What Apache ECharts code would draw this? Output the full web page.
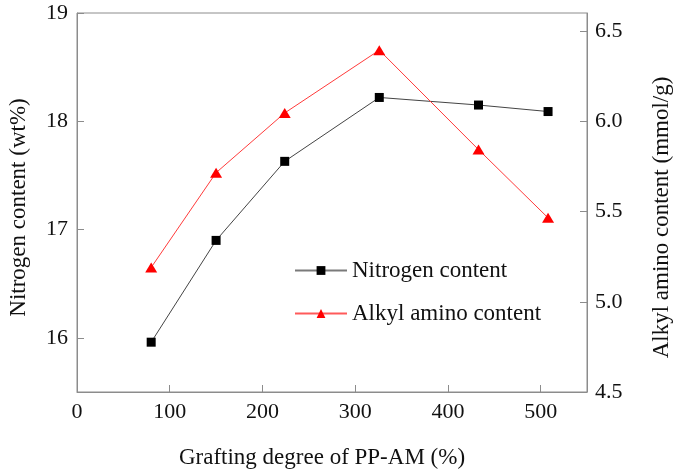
<!DOCTYPE html>
<html>
<head>
<meta charset="utf-8">
<script src="https://cdn.jsdelivr.net/npm/echarts@6/dist/echarts.min.js"></script>
<style>html,body{margin:0;padding:0;background:#fff;overflow:hidden}#c{width:675px;height:472px}</style>
</head>
<body>
<div id="c"></div>
<script>
var graftingDegree = [80, 150, 224, 326, 433, 508];
var nitrogenContent = [15.96, 16.90, 17.63, 18.22, 18.15, 18.09];
var alkylAminoContent = [5.19, 5.715, 6.046, 6.394, 5.843, 5.465];
var xTicks = [0, 100, 200, 300, 400, 500];
var leftTicks = [16, 17, 18, 19];
var rightTicks = [4.5, 5.0, 5.5, 6.0, 6.5];

var FONT = '"Liberation Serif", "Times New Roman", serif';
var axisCol = '#8c8c8c';
function pairs(xs, ys) { return xs.map(function (x, i) { return [x, ys[i]]; }); }

var chart = echarts.init(document.getElementById('c'));
chart.setOption({
  animation: false,
  backgroundColor: '#fff',
  grid: { left: 77, right: 88, top: 13, bottom: 80, containLabel: false, outerBoundsMode: 'none',
    show: true, borderColor: axisCol, borderWidth: 1, backgroundColor: 'transparent' },
  legend: {
    orient: 'vertical', left: 294, top: 259, padding: 0, itemGap: 20, itemWidth: 52, itemHeight: 11,
    textStyle: { fontFamily: FONT, fontSize: 23, color: '#111' },
    data: [
      { name: 'Nitrogen content', lineStyle: { color: '#7a7a7a' } },
      { name: 'Alkyl amino content', lineStyle: { color: '#ff5a5a' } }
    ]
  },
  xAxis: {
    type: 'value', min: 0, max: 550,
    name: 'Grafting degree of PP-AM (%)', nameLocation: 'middle', nameGap: 54,
    nameTextStyle: { fontFamily: FONT, fontSize: 23, color: '#111', padding: [0, 20, 0, 0] },
    axisLine: { show: true, lineStyle: { color: axisCol } },
    axisTick: { show: true, inside: true, length: 7, lineStyle: { color: axisCol }, customValues: xTicks },
    axisLabel: { fontFamily: FONT, fontSize: 22, color: '#111', margin: 9, customValues: xTicks },
    splitLine: { show: false }
  },
  yAxis: [{
    type: 'value', min: 15.5, max: 19, position: 'left',
    name: 'Nitrogen content (wt%)', nameLocation: 'middle', nameGap: 47,
    nameTextStyle: { fontFamily: FONT, fontSize: 23, color: '#111', padding: [0, 10, 0, 0] },
    axisLine: { show: true, lineStyle: { color: axisCol } },
    axisTick: { show: true, inside: true, length: 7, lineStyle: { color: axisCol }, customValues: leftTicks },
    axisLabel: { fontFamily: FONT, fontSize: 22, color: '#111', margin: 9, customValues: leftTicks },
    splitLine: { show: false }
  }, {
    type: 'value', min: 4.5, max: 6.6, position: 'right',
    name: 'Alkyl amino content (mmol/g)', nameLocation: 'middle', nameGap: 63,
    nameTextStyle: { fontFamily: FONT, fontSize: 23, color: '#111', padding: [0, 30, 0, 0] },
    axisLine: { show: true, lineStyle: { color: axisCol } },
    axisTick: { show: true, inside: true, length: 7, lineStyle: { color: axisCol }, customValues: rightTicks },
    axisLabel: { fontFamily: FONT, fontSize: 22, color: '#111', margin: 8, customValues: rightTicks,
      formatter: function (v) { return v.toFixed(1); } },
    splitLine: { show: false }
  }],
  series: [{
    name: 'Nitrogen content', type: 'line', yAxisIndex: 0,
    data: pairs(graftingDegree, nitrogenContent),
    symbol: 'rect', symbolSize: 9,
    lineStyle: { color: '#444', width: 1 },
    itemStyle: { color: '#000' }
  }, {
    name: 'Alkyl amino content', type: 'line', yAxisIndex: 1,
    data: pairs(graftingDegree, alkylAminoContent),
    symbol: 'triangle', symbolSize: [12, 10],
    lineStyle: { color: '#ff3b3b', width: 1 },
    itemStyle: { color: '#ff0000' }
  }]
});
</script>
</body>
</html>
